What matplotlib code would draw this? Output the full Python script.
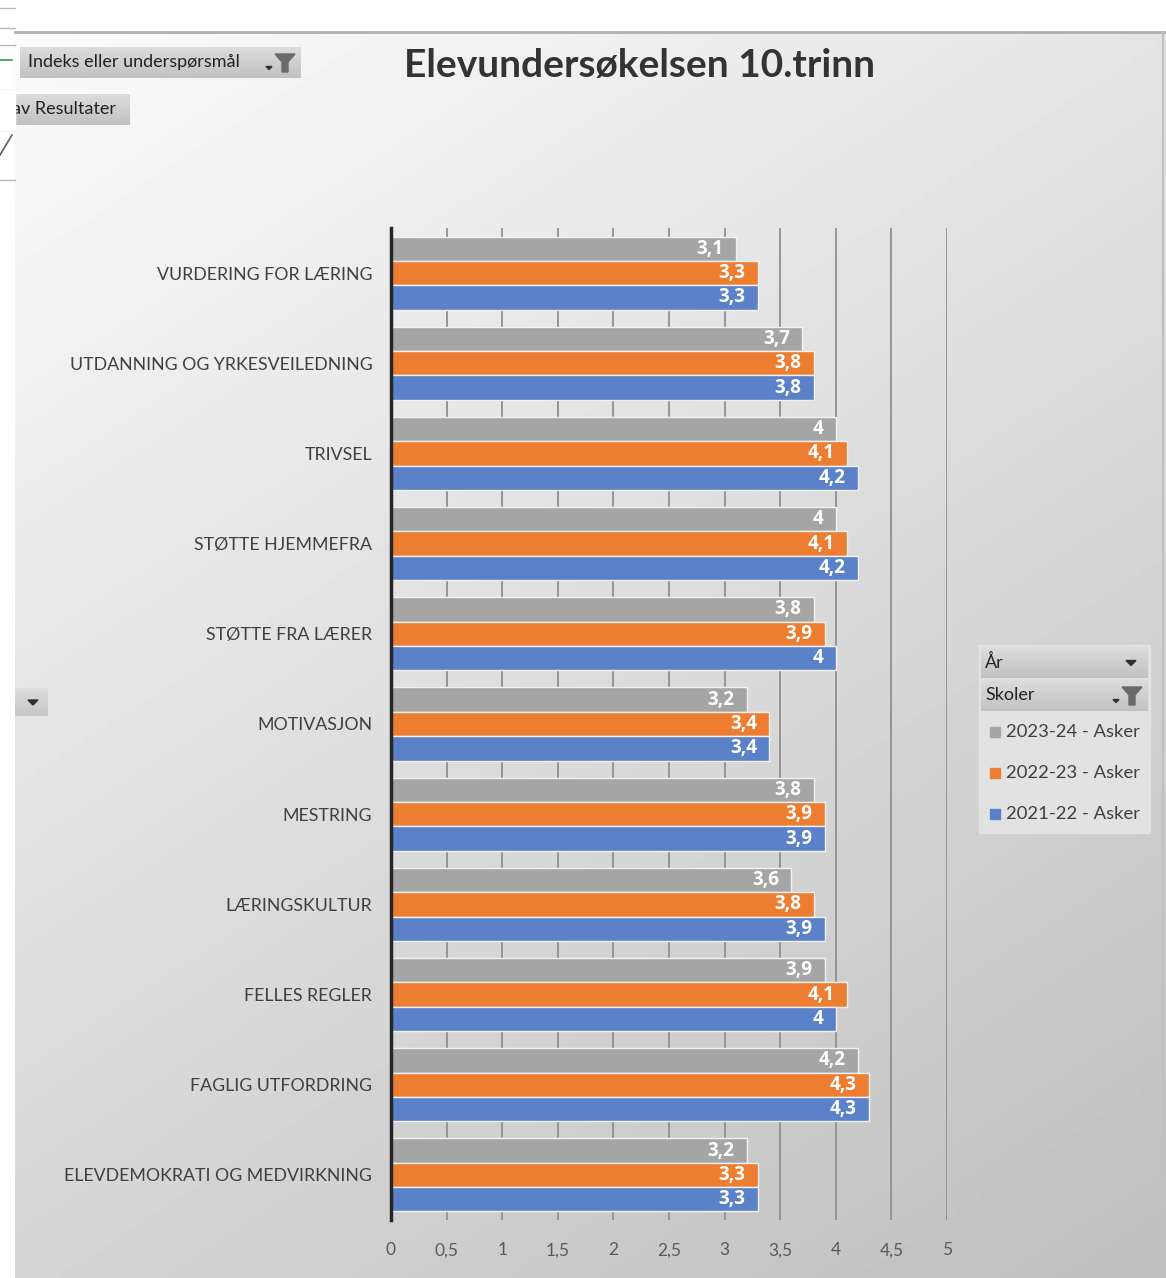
import numpy as np
import matplotlib.pyplot as plt
from matplotlib.patches import Rectangle, Polygon

plt.rcParams['font.family'] = ['Lato', 'DejaVu Sans']

# ---- data ----
categories = ['VURDERING FOR LÆRING', 'UTDANNING OG YRKESVEILEDNING', 'TRIVSEL',
              'STØTTE HJEMMEFRA', 'STØTTE FRA LÆRER', 'MOTIVASJON', 'MESTRING',
              'LÆRINGSKULTUR', 'FELLES REGLER', 'FAGLIG UTFORDRING',
              'ELEVDEMOKRATI OG MEDVIRKNING']
series_names = ['2023-24 - Asker', '2022-23 - Asker', '2021-22 - Asker']
vals_2324 = [3.1, 3.7, 4, 4, 3.8, 3.2, 3.8, 3.6, 3.9, 4.2, 3.2]
vals_2223 = [3.3, 3.8, 4.1, 4.1, 3.9, 3.4, 3.9, 3.8, 4.1, 4.3, 3.3]
vals_2122 = [3.3, 3.8, 4.2, 4.2, 4.0, 3.4, 3.9, 3.9, 4.0, 4.3, 3.3]
x_ticks = [0, 0.5, 1, 1.5, 2, 2.5, 3, 3.5, 4, 4.5, 5]
colors = ['#A5A5A5', '#ED7D31', '#5B82C8']

W, H = 1166, 1278
fig = plt.figure(figsize=(W / 100, H / 100), dpi=100)

# ---- background (gradient chart area + excel chrome), pixel coords ----
bg = fig.add_axes([0, 0, 1, 1])
bg.set_xlim(0, W)
bg.set_ylim(H, 0)
bg.axis('off')
yy, xx = np.mgrid[0:H:4, 0:W:4]
grad = 0.985 - 0.20 * (0.45 * xx / W + 0.75 * yy / H)
grad = np.clip(grad, 0.75, 1)
bg.imshow(grad, cmap='gray', vmin=0, vmax=1, extent=[15, W, H, 32], aspect='auto', zorder=0)
bg.plot([15, W], [32, 32], color='#b0b0b0', lw=2, zorder=1)
bg.plot([1163, 1163], [32, H], color='#c0c0c0', lw=1.5, zorder=1)
# left excel strip
for y in [8, 28, 45, 90, 130, 180]:
    bg.plot([0, 15], [y, y], color='#b8b8b8', lw=1, zorder=1)
bg.plot([0, 12], [60, 60], color='#2e9e4e', lw=1.2, zorder=1)
bg.plot([0, 12], [155, 135], color='#606060', lw=1.2, zorder=1)


def button(x0, y0, w, h, txt, icon=None, fs=10.5, tx=8):
    g = np.linspace(0.86, 0.76, 20).reshape(-1, 1)
    bg.imshow(g, cmap='gray', vmin=0, vmax=1, extent=[x0, x0 + w, y0 + h, y0],
              aspect='auto', zorder=2)
    bg.text(x0 + tx, y0 + h / 2, txt, fontsize=fs, color='#222222', va='center', ha='left', zorder=3)
    if icon == 'filter':
        fx = x0 + w - 26
        bg.add_patch(Polygon([[fx, y0 + 7], [fx + 20, y0 + 7], [fx + 13, y0 + 15],
                              [fx + 13, y0 + h - 6], [fx + 7, y0 + h - 6], [fx + 7, y0 + 15]],
                             closed=True, color='#6a6a6a', zorder=3))
        bg.add_patch(Polygon([[fx - 9, y0 + h / 2 + 4], [fx - 3, y0 + h / 2 + 4],
                              [fx - 6, y0 + h / 2 + 7]], closed=True, color='#303030', zorder=3))
    elif icon == 'arrow':
        ax0 = x0 + w - 22
        bg.add_patch(Polygon([[ax0, y0 + h / 2 - 2], [ax0 + 10, y0 + h / 2 - 2],
                              [ax0 + 5, y0 + h / 2 + 3]], closed=True, color='#303030', zorder=3))


# pivot buttons
button(20, 47, 281, 31, 'Indeks eller underspørsmål', icon='filter', fs=13, tx=8)
button(15, 94, 115, 31, 'av Resultater', fs=13, tx=-3)
bg.add_patch(Rectangle((0, 90), 15, 40, color='white', zorder=4))
# left dropdown
g = np.linspace(0.86, 0.78, 20).reshape(-1, 1)
bg.imshow(g, cmap='gray', vmin=0, vmax=1, extent=[15, 48, 716, 688], aspect='auto', zorder=2)
bg.add_patch(Polygon([[28, 700], [38, 700], [33, 705]], closed=True, color='#303030', zorder=3))

# title
bg.text(639, 66, 'Elevundersøkelsen 10.trinn', fontsize=28, fontweight='bold',
        color='#333333', ha='center', va='center', zorder=3)

# legend panel
bg.add_patch(Rectangle((979, 645), 171, 188, color='#e2e2e2', zorder=2))
button(981, 647, 167, 31, 'År', icon='arrow', fs=13, tx=4)
button(981, 680, 167, 31, 'Skoler', icon='filter', fs=13, tx=4)
for i, (name, c) in enumerate(zip(series_names, colors)):
    yc = 732 + i * 41
    bg.add_patch(Rectangle((990, yc - 5), 10, 10, color=c, zorder=3))
    bg.text(1006, yc, name, fontsize=13.3, color='#404040', va='center', ha='left', zorder=3)

# ---- chart ----
ax = fig.add_axes([391 / W, 1 - 1220 / H, (947 - 391) / W, (1220 - 228) / H])
ax.patch.set_alpha(0)
y = np.arange(len(categories))
bh = 0.27
all_vals = [vals_2324, vals_2223, vals_2122]
for k, (vals, c) in enumerate(zip(all_vals, colors)):
    pos = y + (k - 1) * bh
    ax.barh(pos, vals, height=bh, color=c, edgecolor='#f2f2f2', linewidth=1, zorder=3)
    for p, v in zip(pos, vals):
        lab = ('%g' % v).replace('.', ',')
        ax.text(v - 0.11, p, lab, ha='right', va='center', color='white',
                fontsize=13.5, fontweight='bold', family=['Open Sans', 'DejaVu Sans'], zorder=4)

ax.set_xlim(0, 5)
ax.set_ylim(len(categories) - 0.5, -0.5)
ax.set_xticks(x_ticks)
ax.set_xticklabels([('%g' % t).replace('.', ',') for t in x_ticks], fontsize=12.5, color='#595959')
ax.set_yticks(y)
ax.set_yticklabels(categories, fontsize=12.8, color='#404040')
ax.tick_params(axis='both', length=0)
ax.tick_params(axis='x', pad=16)
ax.tick_params(axis='y', pad=13.5)
ax.grid(axis='x', color='#8f8f8f', lw=1.3, zorder=1)
ax.set_axisbelow(True)
for s in ['top', 'right', 'bottom']:
    ax.spines[s].set_visible(False)
ax.spines['left'].set_color('#262626')
ax.spines['left'].set_linewidth(2.5)
ax.spines['left'].set_zorder(5)

fig.savefig('out.png', dpi=100)
